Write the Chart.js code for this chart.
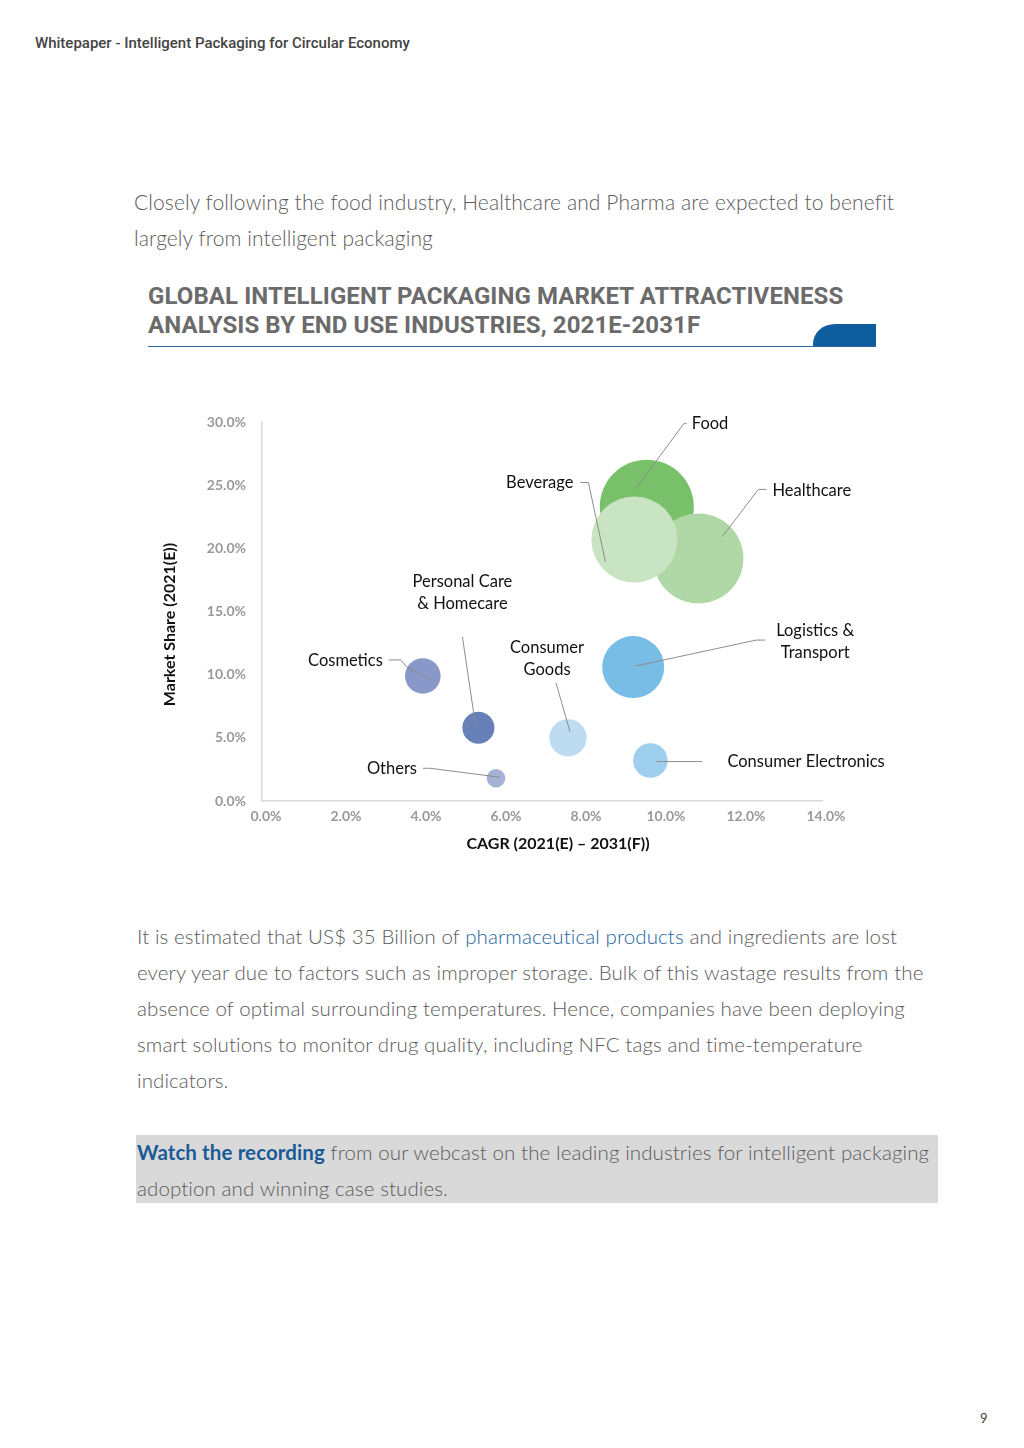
<!DOCTYPE html>
<html>
<head>
<meta charset="utf-8">
<script src="https://cdn.jsdelivr.net/npm/chart.js@4/dist/chart.umd.min.js"></script>
<style>
  html, body { margin: 0; padding: 0; background: #fff; }
  body { width: 1024px; height: 1448px; position: relative; overflow: hidden; }
  .hdr { position: absolute; left: 35px; top: 34px; font: 500 15px Roboto, sans-serif; color: #444; }
  .para { position: absolute; font: 300 20.5px Lato, sans-serif; letter-spacing: 0.1px; line-height: 36px; color: #5a5a5a; }
  .para a { color: #1d64a0; text-decoration: none; }
  .title { position: absolute; left: 148px; top: 282px; font: 700 24px Roboto, sans-serif; letter-spacing: 0.1px; line-height: 29px; color: #6b6b6b; }
  .rule { position: absolute; left: 148px; top: 346px; width: 728px; height: 1px; background: #2a6aa6; }
  .tab { position: absolute; left: 813px; top: 324px; width: 63px; height: 22px; background: #0e5d9e; border-top-left-radius: 22px 20px; }
  .box { position: absolute; left: 136px; top: 1135px; width: 802px; height: 68px; background: #d9d9d9; }
  .box .para { left: 1px; top: -1px; white-space: nowrap; }
  .box b { color: #1a5b96; font-weight: 700; }
  .pg { position: absolute; left: 980px; top: 1410px; font: 13px Lato, sans-serif; color: #444; }
  #chart { position: absolute; left: 150px; top: 395px; }
</style>
</head>
<body>
<div class="hdr">Whitepaper - Intelligent Packaging for Circular Economy</div>
<div class="para" style="left:134px; top:184px; font-size:21px;">Closely following the food industry, Healthcare and Pharma are expected to benefit<br>largely from intelligent packaging</div>
<div class="title">GLOBAL INTELLIGENT PACKAGING MARKET ATTRACTIVENESS<br>ANALYSIS BY END USE INDUSTRIES, 2021E-2031F</div>
<div class="rule"></div>
<div class="tab"></div>
<canvas id="chart" width="750" height="475"></canvas>
<div class="para" style="left:137px; top:918px;">It is estimated that US$ 35 Billion of <a>pharmaceutical products</a> and ingredients are lost<br>every year due to factors such as improper storage. Bulk of this wastage results from the<br>absence of optimal surrounding temperatures. Hence, companies have been deploying<br>smart solutions to monitor drug quality, including NFC tags and time-temperature<br>indicators.</div>
<div class="box"><div class="para"><b>Watch the recording</b> from our webcast on the leading industries for intelligent packaging<br>adoption and winning case studies.</div></div>
<div class="pg">9</div>

<script>
// data
var industries = ["Food", "Healthcare", "Beverage", "Logistics & Transport", "Consumer Goods",
                  "Consumer Electronics", "Others", "Cosmetics", "Personal Care & Homecare"];
var cagr   = [9.62, 10.91, 9.31, 9.28, 7.65, 9.71, 5.85, 4.02, 5.41];   // % x
var share  = [23.3, 19.2, 20.7, 10.6, 5.0, 3.2, 1.8, 9.9, 5.8];        // % y
var size   = [100, 91.7, 83.7, 43.5, 15.8, 13.5, 3.9, 14.3, 11.6];     // relative market size
var xTicks = [0, 2, 4, 6, 8, 10, 12, 14];
var yTicks = [0, 5, 10, 15, 20, 25, 30];

var colors = ["#78c16a", "#b0d8a6", "#c8e4c2", "#77bde6", "#bddcf2",
              "#9fcfee", "#a6b1d6", "#8898c8", "#6780b8"];

// label text + leader line (pixel offsets from bubble centre)
var labelLayout = [
  { lines: ["Food"], align: "left", tx: 45, ty: -83, path: [[-11,-18],[37,-83],[40,-83]] },
  { lines: ["Healthcare"], align: "left", tx: 74, ty: -68, path: [[24,-22],[60,-69],[68,-69]] },
  { lines: ["Beverage"], align: "right", tx: -61, ty: -57, path: [[-29,22],[-46,-57],[-54,-57]] },
  { lines: ["Logistics &", "Transport"], align: "center", tx: 182, ty: -25, path: [[2,-1],[123,-27],[132,-27]] },
  { lines: ["Consumer", "Goods"], align: "center", tx: -21, ty: -79, path: [[2,-6],[-12,-55]] },
  { lines: ["Consumer Electronics"], align: "left", tx: 77, ty: 1, path: [[6,1],[52,1]] },
  { lines: ["Others"], align: "right", tx: -79, ty: -10, path: [[4,-1],[-66,-10],[-73,-10]] },
  { lines: ["Cosmetics"], align: "right", tx: -40, ty: -15, path: [[9,4],[-16,-9],[-22,-16],[-34,-16]] },
  { lines: ["Personal Care", "& Homecare"], align: "center", tx: -16, ty: -135, path: [[-3,-3],[-16,-91]] }
];

var points = [];
for (var i = 0; i < industries.length; i++) {
  points.push({ x: cagr[i], y: share[i], r: 4.7 * Math.sqrt(size[i]) });
}

var labelPlugin = {
  id: "bubbleLabels",
  afterDatasetsDraw: function(chart) {
    var ctx = chart.ctx;
    var meta = chart.getDatasetMeta(0);
    ctx.save();
    ctx.strokeStyle = "#8c8c8c";
    ctx.lineWidth = 1;
    ctx.fillStyle = "#111";
    ctx.font = "16.5px Lato, sans-serif";
    ctx.textBaseline = "middle";
    meta.data.forEach(function(el, i) {
      var L = labelLayout[i];
      ctx.beginPath();
      L.path.forEach(function(p, k) {
        if (k === 0) ctx.moveTo(el.x + p[0], el.y + p[1]);
        else ctx.lineTo(el.x + p[0], el.y + p[1]);
      });
      ctx.stroke();
      ctx.textAlign = L.align;
      var n = L.lines.length;
      L.lines.forEach(function(t, k) {
        ctx.fillText(t, el.x + L.tx, el.y + L.ty + (k - (n - 1) / 2) * 22);
      });
    });
    // axis titles
    var a = chart.chartArea;
    ctx.font = "bold 16px Lato, sans-serif";
    ctx.textAlign = "center";
    ctx.fillText("CAGR (2021(E) \u2013 2031(F))", (a.left + a.right) / 2 + 16, a.bottom + 43);
    ctx.translate(20, (a.top + a.bottom) / 2 + 13);
    ctx.rotate(-Math.PI / 2);
    ctx.fillText("Market Share (2021(E))", 0, 0);
    ctx.restore();
  }
};

var tickFont = { family: "Lato", size: 14, weight: "bold" };

new Chart(document.getElementById("chart").getContext("2d"), {
  type: "bubble",
  data: {
    datasets: [{
      data: points,
      backgroundColor: colors,
      borderWidth: 0,
      hoverBorderWidth: 0
    }]
  },
  options: {
    responsive: false,
    animation: false,
    devicePixelRatio: 1,
    layout: { autoPadding: false, padding: { top: 27, right: 78, left: 0, bottom: 0 } },
    plugins: { legend: { display: false }, tooltip: { enabled: false } },
    scales: {
      x: {
        type: "linear", min: 0, max: 14,
        afterBuildTicks: function(s) { s.ticks = xTicks.map(function(v) { return { value: v }; }); },
        afterFit: function(s) { s.height = 69; },
        grid: { display: false, drawTicks: false },
        border: { display: true, color: "#d9d9d9", width: 1.5 },
        ticks: { padding: 7, labelOffset: 4, color: "#999999", font: tickFont,
                 callback: function(v) { return v.toFixed(1) + "%"; } }
      },
      y: {
        type: "linear", min: 0, max: 30,
        afterBuildTicks: function(s) { s.ticks = yTicks.map(function(v) { return { value: v }; }); },
        afterFit: function(s) { s.width = 112; },
        grid: { display: false, drawTicks: false },
        border: { display: true, color: "#d9d9d9", width: 1.5 },
        ticks: { padding: 16, color: "#999999", font: tickFont,
                 callback: function(v) { return v.toFixed(1) + "%"; } }
      }
    }
  },
  plugins: [labelPlugin]
});
</script>
</body>
</html>
